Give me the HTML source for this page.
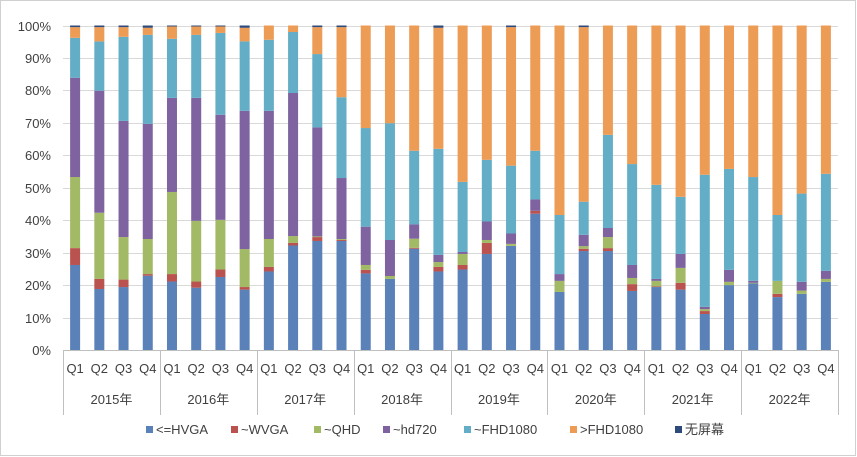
<!DOCTYPE html>
<html><head><meta charset="utf-8">
<style>
html,body{margin:0;padding:0;background:#fff;}
svg{display:block;font-family:"Liberation Sans","Noto Sans CJK SC",sans-serif;}
</style></head>
<body>
<svg id="chart" width="857" height="457" viewBox="0 0 857 457">
<rect x="0.5" y="0.5" width="855" height="455" fill="#fff" stroke="#d0d0d0"/>
<g id="grid"></g>
<g id="bars"></g>
<g id="axes"></g>
<g id="legend"></g>
</svg>
<script>
const years = ["2015年","2016年","2017年","2018年","2019年","2020年","2021年","2022年"];
const quarters = ["Q1","Q2","Q3","Q4"];
const yTicks = [0,10,20,30,40,50,60,70,80,90,100];
const seriesNames = ["<=HVGA","~WVGA","~QHD","~hd720","~FHD1080",">FHD1080","无屏幕"];
const colors = ["#5b81b9","#ba534f","#a2b965","#7e63a0","#63adc6","#ed9c56","#2e4a7a"];
const hvga   = [26.2,18.8,19.4,22.9,21.1,19.2,22.5,18.6,24.2,32.2,33.6,33.6,23.6,21.9,31.2,24.2,24.8,29.6,32.1,42.0,17.9,30.5,30.5,18.2,19.4,18.6,11.1,20.0,20.5,16.3,17.3,21.0];
const wvga   = [5.2,3.1,2.3,0.5,2.3,1.9,2.3,0.8,1.4,0.8,1.2,0.3,1.1,0,0.3,1.4,1.4,3.4,0,0.9,0,0.7,0.9,2.1,0.2,2.1,0.9,0,0,1.0,0,0];
const qhd    = [21.9,20.4,13.1,10.8,25.3,18.7,15.3,11.7,8.6,2.1,0.2,0.3,1.5,0.9,2.8,1.5,3.4,0.9,0.6,0,3.4,0.8,3.4,1.9,1.7,4.6,0.6,1.0,0.2,4.0,1.0,0.9];
const hd720  = [30.6,37.6,35.8,35.5,29.0,37.9,32.4,42.6,39.5,44.1,33.6,18.8,11.8,11.1,4.4,2.2,0.6,5.7,3.2,3.5,2.1,3.5,2.8,4.0,0.6,4.3,0.7,3.7,0.6,0,2.7,2.5];
const fhd    = [12.3,15.2,25.9,27.4,18.2,19.4,25.2,21.4,21.9,18.8,22.6,24.9,30.4,36.0,22.7,32.7,21.6,19.0,20.9,15.0,18.2,10.2,28.7,31.1,29.0,17.6,40.7,31.1,32.0,20.3,27.2,29.9];
const gtfhd  = [3.3,4.4,3.0,2.2,3.8,2.6,2.0,4.2,4.4,2.0,8.3,21.6,31.6,30.1,38.6,37.3,48.2,41.4,42.7,38.6,58.4,53.8,33.7,42.7,49.1,52.8,46.0,44.2,46.7,58.4,51.8,45.7];
const noscr  = [0.5,0.5,0.5,0.7,0.3,0.3,0.3,0.7,0,0,0.5,0.5,0,0,0,0.7,0,0,0.5,0,0,0.5,0,0,0,0,0,0,0,0,0,0];
const series = [hvga,wvga,qhd,hd720,fhd,gtfhd,noscr];

const NS="http://www.w3.org/2000/svg";
const plotL=63, plotR=838, plotT=25.5, plotB=350;
const n=years.length*quarters.length;
const slot=(plotR-plotL)/n, barW=10;
function yScale(v){return plotB-(v/100)*(plotB-plotT);}
function xCenter(i){return plotL+slot*(i+0.5);}
function mk(tag,attrs,parent){const e=document.createElementNS(NS,tag);for(const k in attrs)e.setAttribute(k,attrs[k]);parent.appendChild(e);return e;}

const grid=document.getElementById('grid'), bars=document.getElementById('bars'), axes=document.getElementById('axes'), legend=document.getElementById('legend');
yTicks.forEach(t=>{
  const y=Math.round(yScale(t))+0.5;
  const l=mk('line',{x1:plotL,x2:plotR,y1:y,y2:y,stroke:'#d9d9d9','stroke-width':1},grid);
  
  
  const tx=mk('text',{x:51,y:y+4.5,'text-anchor':'end','font-size':13,fill:'#404040'},axes);
  tx.textContent=t+'%';
  
  
});
for(let i=0;i<n;i++){
  let cum=0;
  series.forEach((s,k)=>{
    const v=s[i]; if(v<=0){return;}
    const y0=yScale(cum), y1=yScale(cum+v);
    const r=mk('rect',{x:xCenter(i)-barW/2,y:y1,width:barW,height:y0-y1,fill:colors[k]},bars);
    
    
    cum+=v;
  });
}
const ax=mk('line',{x1:plotL,x2:plotR,y1:plotB+0.5,y2:plotB+0.5,stroke:'#bfbfbf'},axes);


for(let yi=0;yi<=years.length;yi++){
  const x=Math.round(plotL+slot*4*yi)+0.5;
  const l=mk('line',{x1:x,x2:x,y1:plotB,y2:415,stroke:'#bfbfbf'},axes);
  
  
}
for(let i=0;i<n;i++){
  const t=mk('text',{x:xCenter(i),y:373,'text-anchor':'middle','font-size':13,fill:'#404040'},axes);
  t.textContent=quarters[i%4];
  
  
}
years.forEach((yr,yi)=>{
  const t=mk('text',{x:plotL+slot*(4*yi+2),y:404,'text-anchor':'middle','font-size':13,fill:'#404040'},axes);
  t.textContent=yr;
  
  
});
const legX=[146,231,314,383,464,570,675];
seriesNames.forEach((nm,k)=>{
  const r=mk('rect',{x:legX[k],y:426,width:7,height:7,fill:colors[k]},legend);
  
  
  const t=mk('text',{x:legX[k]+10,y:434,'font-size':13,fill:'#404040'},legend);
  t.textContent=nm;
  
  
});
</script>
</body></html>
